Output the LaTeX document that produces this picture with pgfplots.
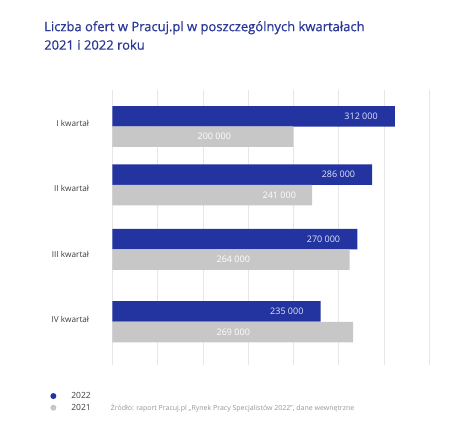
\documentclass[border=0pt]{standalone}
\usepackage{pgfplots}
\pgfplotsset{compat=1.18}
\usepackage{fontspec}
\setmainfont{Open Sans}
\newfontfamily\titlefont{Open Sans}[FakeBold=0.7]
\definecolor{barblue}{RGB}{35,52,160}
\definecolor{bargray}{RGB}{199,199,199}
\definecolor{titleblue}{RGB}{43,57,150}
\definecolor{labelgray}{RGB}{60,60,60}
\definecolor{gridgray}{RGB}{230,230,230}
\definecolor{srcgray}{RGB}{150,150,150}
\begin{document}
\begin{tikzpicture}[x=1pt,y=1pt]
\useasboundingbox (0,0) rectangle (474,-440);
\node[anchor=north west, inner sep=0pt, align=left, text=titleblue,
  font=\titlefont\fontsize{13}{18.5}\selectfont] at (44,-21)
  {Liczba ofert w Pracuj.pl w poszczególnych kwartałach\\2021 i 2022 roku};
\begin{axis}[
  at={(124,-365)}, anchor=south west,
  scale only axis, width=317pt, height=275pt,
  xmin=0, xmax=350000, ymin=-365, ymax=-90,
  xbar, bar width=20.5, bar shift=0pt,
  axis line style={draw=none},
  major tick length=0pt,
  xtick={0,50000,...,350000}, xticklabels={},
  xmajorgrids, grid style={gridgray, line width=0.7pt},
  ytick={-123,-188,-254,-319},
  yticklabels={I kwartał,II kwartał,III kwartał,IV kwartał},
  yticklabel style={font=\fontsize{8.2}{10}\selectfont, text=labelgray, inner sep=0pt, xshift=-23pt},
  scaled x ticks=false,
  clip=false,
  legend image code/.code={\fill[#1] (3pt,0pt) circle (3pt); \path[draw=none,fill=none] (0pt,-1pt) rectangle (19pt,1pt);},
  legend style={at={(axis description cs:-0.196,-0.091)}, anchor=north west,
    draw=none, fill=none, inner sep=0pt, row sep=0pt,
    font=\fontsize{8.5}{10}\selectfont, text=labelgray},
  legend cell align=left,
]
\addplot[fill=barblue, draw=none,
  point meta=explicit symbolic,
  nodes near coords,
  nodes near coords style={anchor=east, xshift=-17pt, text={rgb,255:red,225;green,228;blue,250},
    font=\fontsize{9}{10}\selectfont, inner sep=0pt}]
  coordinates {
    (312000,-116.3) [312 000]
    (287000,-174.7) [286 000]
    (270500,-239.2) [270 000]
    (230000,-311.3) [235 000]
  };
\addlegendentry{2022}
\addplot[fill=bargray, draw=none]
  coordinates {
    (200000,-136.7)
    (220500,-195.0)
    (262000,-259.7)
    (266000,-332.2)
  };
\addlegendentry{2021}
\begin{scope}[every node/.style={text=white, font=\fontsize{9}{10}\selectfont, inner sep=0pt}]
\node at (axis cs:112618,-136.7) {200 000};
\node at (axis cs:184385,-195.0) {241 000};
\node at (axis cs:133596,-259.7) {264 000};
\node at (axis cs:133596,-332.2) {269 000};
\end{scope}
\end{axis}
\node[anchor=west, inner sep=0pt, text=srcgray, font=\fontsize{7}{8}\selectfont]
  at (110.7,-408) {Źródło: raport Pracuj.pl „Rynek Pracy Specjalistów 2022”, dane wewnętrzne};
\end{tikzpicture}
\end{document}
